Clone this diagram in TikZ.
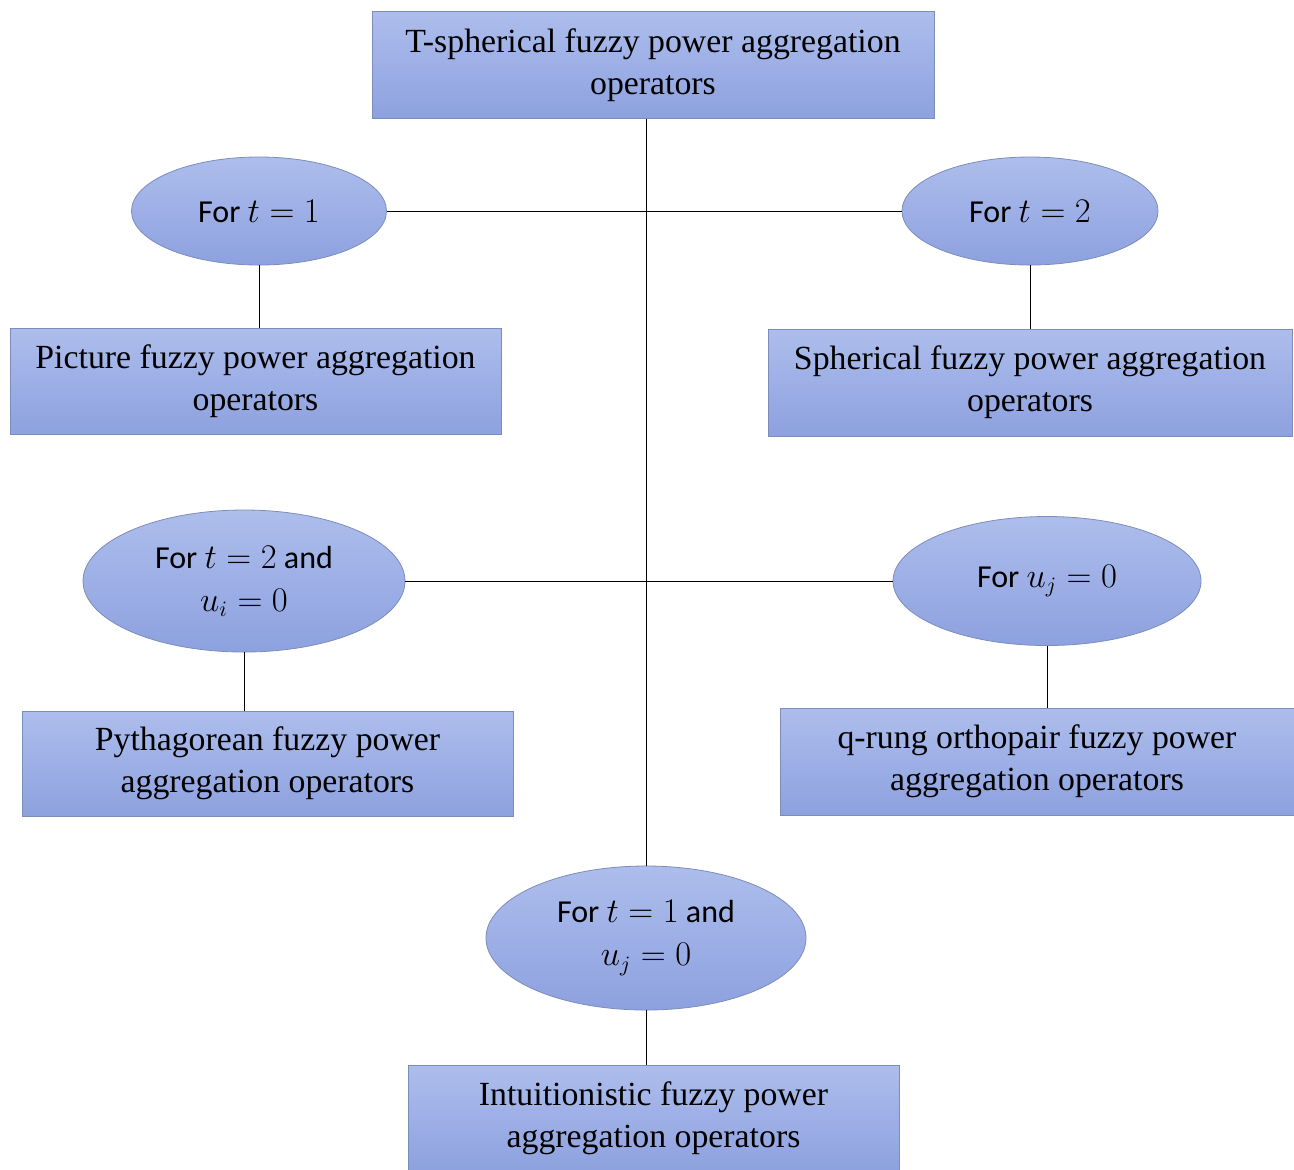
\documentclass[tikz,border=0pt]{standalone}
\usepackage{fontspec}
\setmainfont{Liberation Serif}
\newfontfamily\ellfont{Carlito}
\usetikzlibrary{shapes.geometric}
\definecolor{boxtop}{HTML}{ADBDEC}
\definecolor{boxbot}{HTML}{8DA1DF}
\definecolor{boxline}{HTML}{7D8DBA}
\tikzset{
  opbox/.style={draw=boxline, top color=boxtop, bottom color=boxbot, align=center, inner sep=0pt,
    font=\fontsize{16.9}{21}\selectfont},
  casebox/.style={ellipse, draw=boxline, top color=boxtop, bottom color=boxbot, align=center, inner sep=0pt,
    font=\ellfont\fontsize{16}{21.5}\selectfont},
  link/.style={draw, line width=0.5pt}
}

\begin{document}
\begin{tikzpicture}[x=0.5pt, y=-0.5pt]
\useasboundingbox (0,0) rectangle (1294,1169);
\node (TS) [opbox, minimum width=281pt, minimum height=53.5pt] at (653,65) {T-spherical fuzzy power aggregation\\operators};
\node (E1) [casebox, minimum width=127.5pt, minimum height=54pt] at (259,211) {For $t=1$};
\node (E2) [casebox, minimum width=128pt, minimum height=54pt] at (1030,211) {For $t=2$};
\node (PF) [opbox, minimum width=245.5pt, minimum height=53pt] at (255.5,381) {Picture fuzzy power aggregation\\operators};
\node (SF) [opbox, minimum width=262pt, minimum height=53.5pt] at (1030,382.5) {Spherical fuzzy power aggregation\\operators};
\node (E3) [casebox, minimum width=161pt, minimum height=71pt] at (244,581) {For $t=2$ and\\$u_i=0$};
\node (E4) [casebox, minimum width=154pt, minimum height=64.5pt] at (1047,581) {For $u_j=0$};
\node (PY) [opbox, minimum width=245.5pt, minimum height=52.5pt] at (267.5,763.5) {Pythagorean fuzzy power\\aggregation operators};
\node (QR) [opbox, minimum width=257pt, minimum height=53.5pt] at (1037,761.5) {q-rung orthopair fuzzy power\\aggregation operators};
\node (E5) [casebox, minimum width=160pt, minimum height=72pt] at (646,938) {For $t=1$ and\\$u_j=0$};
\node (IF) [opbox, minimum width=245.5pt, minimum height=53.5pt] at (653.5,1118.5) {Intuitionistic fuzzy power\\aggregation operators};

\path [link] (E5.north |- TS.south) -- (E5.north);
\path [link] (E1) -- (E2);
\path [link] (E3) -- (E4);
\path [link] (E1.south) -- (E1.south |- PF.north);
\path [link] (E2.south) -- (E2.south |- SF.north);
\path [link] (E3.south) -- (E3.south |- PY.north);
\path [link] (E4.south) -- (E4.south |- QR.north);
\path [link] (E5.south) -- (E5.south |- IF.north);
\end{tikzpicture}
\end{document}
